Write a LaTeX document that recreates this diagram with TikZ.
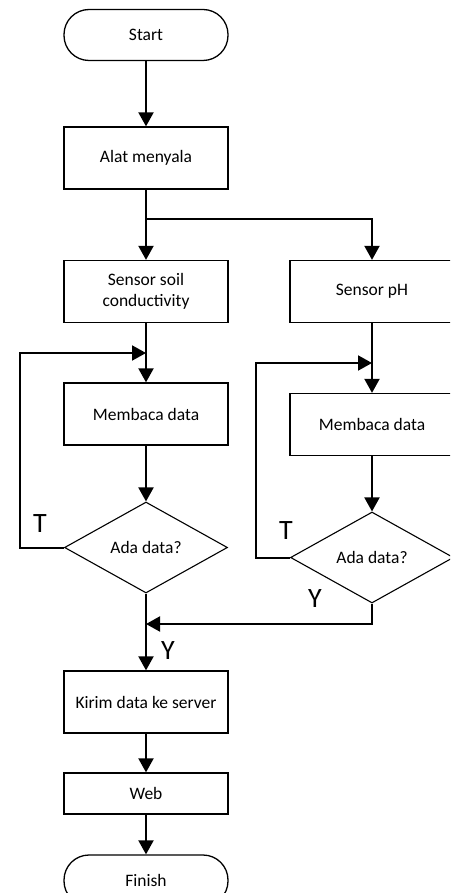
\documentclass[tikz,border=0pt]{standalone}
\usepackage{fontspec}
\setmainfont{Carlito}
\usetikzlibrary{arrows.meta,shapes.geometric}
\begin{document}
\begin{tikzpicture}[x=1pt,y=-1pt,
  every node/.style={font=\fontsize{17.5}{21}\selectfont},
  term/.style={draw,line width=1.3pt,rounded corners=25pt,minimum width=164pt,minimum height=51pt,inner sep=0pt},
  box/.style={draw,line width=1.3pt,minimum width=164pt,minimum height=62pt,inner sep=0pt,align=center},
  dec/.style={draw,line width=1.1pt,diamond,minimum width=163pt,minimum height=91pt,inner sep=0pt,aspect=1.8},
  lbl/.style={font=\fontsize{28}{30}\selectfont,inner sep=0pt},
  arr/.style={line width=2pt,-{Triangle[length=14pt,width=15pt]}},
  ln/.style={line width=2pt}]
\useasboundingbox (0,0) rectangle (450,893);
\clip (0,0) rectangle (450,893);
\node[term] (start) at (146,35) {Start};
\node[box] (alat) at (146,158) {Alat menyala};
\node[box] (soil) at (146,291.5) {Sensor soil\\conductivity};
\node[box] (ph) at (372,291.5) {Sensor pH};
\node[box] (mem1) at (146,414) {Membaca data};
\node[box] (mem2) at (372,424.5) {Membaca data};
\node[dec] (d1) at (146,547.5) {Ada data?};
\node[dec] (d2) at (372,557.5) {Ada data?};
\node[box] (kirim) at (146,702) {Kirim data ke server};
\node[box,minimum height=41pt] (web) at (146,793.5) {Web};
\node[term] (finish) at (146,880.5) {Finish};
\coordinate (split) at (146,219);
\coordinate (fb1) at (20,353);
\coordinate (j1) at (146,353);
\coordinate (fb2) at (256,363);
\coordinate (j2) at (372,363);
\coordinate (j3) at (146,624);
\node[lbl] (t1) at (40,524) {T};
\node[lbl] (t2) at (286,531) {T};
\node[lbl] (y2) at (315,599) {Y};
\node[lbl] (y1) at (168,651) {Y};
\draw[arr] (start) -- (alat);
\draw[arr] (alat) -- (soil);
\draw[arr] (split) -| (ph.north);
\draw[arr] (soil) -- (mem1);
\draw[arr] (ph) -- (mem2);
\draw[arr] (d1.west) -| (fb1) -- (j1);
\draw[arr] (d2.west) -| (fb2) -- (j2);
\draw[arr] (mem1) -- (d1);
\draw[arr] (mem2) -- (d2);
\draw[arr] (d2.south) |- (j3);
\draw[arr] (d1) -- (kirim);
\draw[arr] (kirim) -- (web);
\draw[arr] (web) -- (finish);
\end{tikzpicture}
\end{document}
